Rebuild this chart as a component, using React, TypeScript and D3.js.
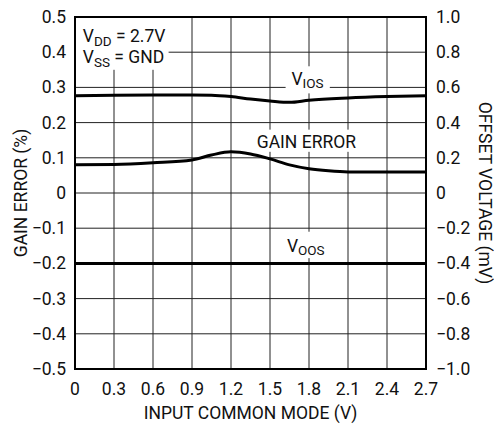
import React from "react";
import * as d3 from "d3";

// input common mode (V)
const xTicks = [0, 0.3, 0.6, 0.9, 1.2, 1.5, 1.8, 2.1, 2.4, 2.7];
const leftTicks = [0.5, 0.4, 0.3, 0.2, 0.1, 0, -0.1, -0.2, -0.3, -0.4, -0.5];
const rightTicks = [1.0, 0.8, 0.6, 0.4, 0.2, 0, -0.2, -0.4, -0.6, -0.8, -1.0];

// gain error (%)
const gainX = [0, 0.3, 0.6, 0.9, 1.05, 1.2, 1.35, 1.5, 1.65, 1.8, 1.95, 2.1, 2.4, 2.7];
const gainY = [0.08, 0.081, 0.086, 0.094, 0.108, 0.117, 0.111, 0.097, 0.08, 0.069, 0.063, 0.06, 0.06, 0.06];

// input offset voltage (mV)
const viosX = [0, 0.3, 0.6, 0.9, 1.05, 1.2, 1.35, 1.5, 1.65, 1.8, 2.1, 2.4, 2.7];
const viosY = [0.553, 0.556, 0.557, 0.557, 0.556, 0.548, 0.534, 0.523, 0.515, 0.527, 0.54, 0.548, 0.553];

// output offset voltage (mV)
const voosX = [0, 2.7];
const voosY = [-0.4, -0.4];

const W = 494;
const H = 425;
const m = { left: 75, right: 68, top: 17, bottom: 56 };

const fmt = (v: number) => {
  if (v === 0) return "0";
  const s = Math.abs(v).toFixed(1);
  return v < 0 ? "\u2212" + s : s;
};

export default function App() {
  const x = d3.scaleLinear().domain([0, 2.7]).range([m.left, W - m.right]);
  const yL = d3.scaleLinear().domain([-0.5, 0.5]).range([H - m.bottom, m.top]);
  const yR = d3.scaleLinear().domain([-1, 1]).range([H - m.bottom, m.top]);

  const lineL = d3
    .line<[number, number]>()
    .x((d) => x(d[0]))
    .y((d) => yL(d[1]))
    .curve(d3.curveMonotoneX);
  const lineR = d3
    .line<[number, number]>()
    .x((d) => x(d[0]))
    .y((d) => yR(d[1]))
    .curve(d3.curveMonotoneX);

  const gain = gainX.map((v, i) => [v, gainY[i]] as [number, number]);
  const vios = viosX.map((v, i) => [v, viosY[i]] as [number, number]);
  const voos = voosX.map((v, i) => [v, voosY[i]] as [number, number]);

  const x0 = x(0), x1 = x(2.7), y0 = yL(-0.5), y1 = yL(0.5);

  // white patch behind a label, given in data units (x in V, y in %)
  const patch = (xa: number, xb: number, ya: number, yb: number) => (
    <rect x={x(xa)} y={yL(ya)} width={x(xb) - x(xa)} height={yL(yb) - yL(ya)} />
  );

  return (
    <svg
      width={W}
      height={H}
      style={{ position: "absolute", left: 0, top: 0, background: "#fff" }}
      fontFamily="Roboto, 'Liberation Sans', sans-serif"
      fontSize={17.5}
    >
      {/* grid */}
      <g stroke="#222" strokeWidth={1}>
        {xTicks.slice(1, -1).map((t) => (
          <line key={"gx" + t} x1={x(t)} x2={x(t)} y1={y0} y2={y1} />
        ))}
        {leftTicks.slice(1, -1).map((t) => (
          <line key={"gy" + t} x1={x0} x2={x1} y1={yL(t)} y2={yL(t)} />
        ))}
      </g>

      {/* label backgrounds */}
      <g fill="#fff">
        {patch(0, 0.72, 0.5, 0.35)}
        {patch(1.62, 1.96, 0.36, 0.283)}
        {patch(1.38, 2.18, 0.18, 0.117)}
        {patch(1.6, 1.96, -0.11, -0.185)}
      </g>

      {/* data */}
      <g fill="none" stroke="#000" strokeWidth={3}>
        <path d={lineR(vios) ?? ""} />
        <path d={lineL(gain) ?? ""} />
        <path d={lineR(voos) ?? ""} />
      </g>

      {/* frame */}
      <rect x={x0} y={y1} width={x1 - x0} height={y0 - y1} fill="none" stroke="#000" strokeWidth={2} />

      {/* ticks */}
      <g fill="#111">
        {xTicks.map((t) => (
          <text key={"tx" + t} x={x(t)} y={y0 + 26} textAnchor="middle">
            {t === 0 ? "0" : t.toFixed(1)}
          </text>
        ))}
        {leftTicks.map((t) => (
          <text key={"tl" + t} x={x0 - 9} y={yL(t) + 6} textAnchor="end">
            {fmt(t)}
          </text>
        ))}
        {rightTicks.map((t) => (
          <text key={"tr" + t} x={x1 + 10} y={yR(t) + 6} textAnchor="start">
            {fmt(t)}
          </text>
        ))}
      </g>

      {/* axis titles */}
      <g fill="#111">
        <text x={(x0 + x1) / 2} y={H - 6} textAnchor="middle">
          INPUT COMMON MODE (V)
        </text>
        <text transform={`translate(27,${(y0 + y1) / 2}) rotate(-90)`} textAnchor="middle">
          GAIN ERROR (%)
        </text>
        <text transform={`translate(479,${(y0 + y1) / 2}) rotate(90)`} textAnchor="middle">
          OFFSET VOLTAGE (mV)
        </text>
      </g>

      {/* annotations */}
      <g fill="#111">
        <text x={x(0.06)} y={yL(0.43)}>
          V<tspan fontSize={13.5} dy={4}>DD</tspan>
          <tspan dy={-4}> = 2.7V</tspan>
        </text>
        <text x={x(0.06)} y={yL(0.368)}>
          V<tspan fontSize={13.5} dy={4}>SS</tspan>
          <tspan dy={-4}> = GND</tspan>
        </text>
        <text x={x(1.665)} y={yL(0.306)}>
          V<tspan fontSize={13.5} dy={3}>IOS</tspan>
        </text>
        <text x={x(1.78)} y={yL(0.128)} textAnchor="middle">
          GAIN ERROR
        </text>
        <text x={x(1.63)} y={yL(-0.168)}>
          V<tspan fontSize={13.5} dy={3}>OOS</tspan>
        </text>
      </g>
    </svg>
  );
}
